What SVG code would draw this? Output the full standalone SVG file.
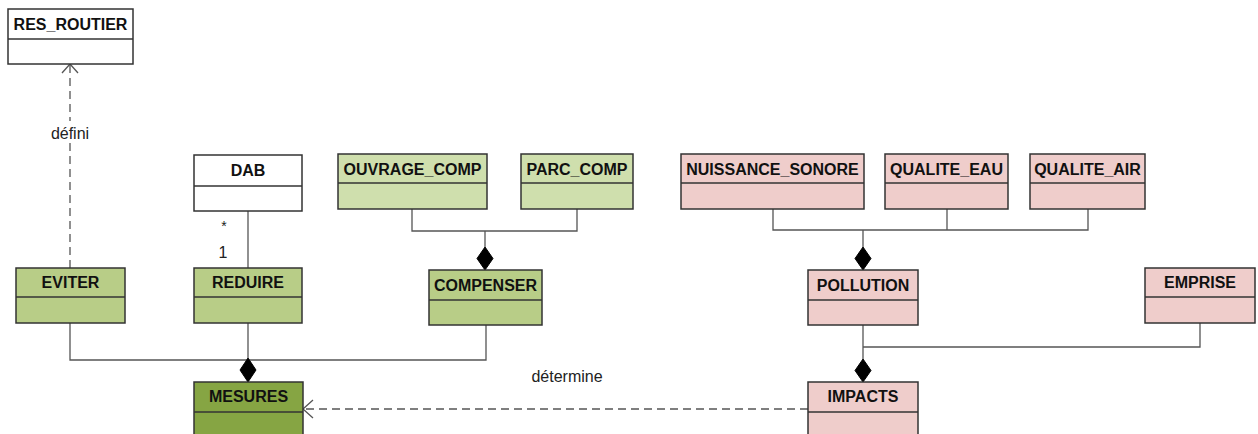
<svg xmlns="http://www.w3.org/2000/svg" width="1258" height="434" viewBox="0 0 1258 434">
<defs>
<style>
.box{stroke:#333;stroke-width:1.5}
.div{stroke:#333;stroke-width:1.5}
.w{fill:#ffffff}
.lg{fill:#cfdfad}
.g{fill:#b8cd87}
.dg{fill:#86a543}
.p{fill:#efcdcb}
.t{font-family:"Liberation Sans",Arial,sans-serif;font-size:16px;font-weight:bold;fill:#111;text-anchor:middle}
.l{font-family:"Liberation Sans",Arial,sans-serif;font-size:16px;fill:#222;text-anchor:middle}
.c{fill:none;stroke:#555;stroke-width:1.3}
.d{fill:none;stroke:#555;stroke-width:1.3;stroke-dasharray:8 5}
.dia{fill:#000;stroke:#000;stroke-width:1}
.ah{fill:none;stroke:#555;stroke-width:1.3}
</style>
</defs>
<rect width="1258" height="434" fill="#fff"/>
<g id="connectors">
<path class="d" d="M70,268 V65"/>
<path class="ah" d="M62,73 L70,64 L78,73"/>
<rect x="48" y="121" width="44" height="22" fill="#fff"/>
<text class="l" x="70" y="139">défini</text>
<path class="c" d="M248,211 V268"/>
<text class="l" x="224" y="231" style="font-size:14px">*</text>
<text class="l" x="223" y="258">1</text>
<path class="c" d="M70,323 V360 H486 V325"/>
<path class="c" d="M248,323 V358"/>
<path class="dia" d="M248,358 L256,370 L248,382 L240,370 Z"/>
<path class="c" d="M412,209 V231 H577 V209"/>
<path class="c" d="M485,231 V247"/>
<path class="dia" d="M485,247 L493,258.5 L485,270 L477,258.5 Z"/>
<path class="c" d="M773,209 V230 H1088 V209"/>
<path class="c" d="M947,209 V230"/>
<path class="c" d="M863,230 V247"/>
<path class="dia" d="M863,247 L871,258.5 L863,270 L855,258.5 Z"/>
<path class="c" d="M863,325 V359"/>
<path class="c" d="M1200,323 V347 H863"/>
<path class="dia" d="M863,359 L871,370.5 L863,382 L855,370.5 Z"/>
<path class="d" d="M808,409 H304"/>
<path class="ah" d="M313,400 L303,409 L313,418"/>
<text class="l" x="567" y="382">détermine</text>
</g>
<g id="RES_ROUTIER">
<rect class="box w" x="8" y="9" width="125" height="55"/>
<line class="div" x1="8" y1="39" x2="133" y2="39"/>
<text class="t" x="70.5" y="30">RES_ROUTIER</text>
</g>
<g id="DAB">
<rect class="box w" x="194" y="155" width="108" height="56"/>
<line class="div" x1="194" y1="186" x2="302" y2="186"/>
<text class="t" x="248" y="176">DAB</text>
</g>
<g id="OUVRAGE_COMP">
<rect class="box lg" x="338" y="154" width="149" height="55"/>
<line class="div" x1="338" y1="183" x2="487" y2="183"/>
<text class="t" x="412.5" y="175">OUVRAGE_COMP</text>
</g>
<g id="PARC_COMP">
<rect class="box lg" x="521" y="154" width="112" height="55"/>
<line class="div" x1="521" y1="183" x2="633" y2="183"/>
<text class="t" x="577" y="175">PARC_COMP</text>
</g>
<g id="NUISSANCE_SONORE">
<rect class="box p" x="681" y="154" width="183" height="55"/>
<line class="div" x1="681" y1="183" x2="864" y2="183"/>
<text class="t" x="772.5" y="175">NUISSANCE_SONORE</text>
</g>
<g id="QUALITE_EAU">
<rect class="box p" x="885" y="154" width="123" height="55"/>
<line class="div" x1="885" y1="183" x2="1008" y2="183"/>
<text class="t" x="946.5" y="175">QUALITE_EAU</text>
</g>
<g id="QUALITE_AIR">
<rect class="box p" x="1030" y="154" width="115" height="55"/>
<line class="div" x1="1030" y1="183" x2="1145" y2="183"/>
<text class="t" x="1087.5" y="175">QUALITE_AIR</text>
</g>
<g id="EVITER">
<rect class="box g" x="16" y="268" width="109" height="55"/>
<line class="div" x1="16" y1="297" x2="125" y2="297"/>
<text class="t" x="70.5" y="288">EVITER</text>
</g>
<g id="REDUIRE">
<rect class="box g" x="194" y="268" width="108" height="55"/>
<line class="div" x1="194" y1="297" x2="302" y2="297"/>
<text class="t" x="248" y="288">REDUIRE</text>
</g>
<g id="COMPENSER">
<rect class="box g" x="429" y="270" width="113" height="55"/>
<line class="div" x1="429" y1="300" x2="542" y2="300"/>
<text class="t" x="485.5" y="291">COMPENSER</text>
</g>
<g id="POLLUTION">
<rect class="box p" x="808" y="270" width="110" height="55"/>
<line class="div" x1="808" y1="300" x2="918" y2="300"/>
<text class="t" x="863" y="291">POLLUTION</text>
</g>
<g id="EMPRISE">
<rect class="box p" x="1145" y="268" width="110" height="55"/>
<line class="div" x1="1145" y1="297" x2="1255" y2="297"/>
<text class="t" x="1200" y="288">EMPRISE</text>
</g>
<g id="MESURES">
<rect class="box dg" x="194" y="382" width="109" height="60"/>
<line class="div" x1="194" y1="412" x2="303" y2="412"/>
<text class="t" x="248.5" y="402">MESURES</text>
</g>
<g id="IMPACTS">
<rect class="box p" x="808" y="382" width="110" height="60"/>
<line class="div" x1="808" y1="412" x2="918" y2="412"/>
<text class="t" x="863" y="402">IMPACTS</text>
</g>
</svg>
